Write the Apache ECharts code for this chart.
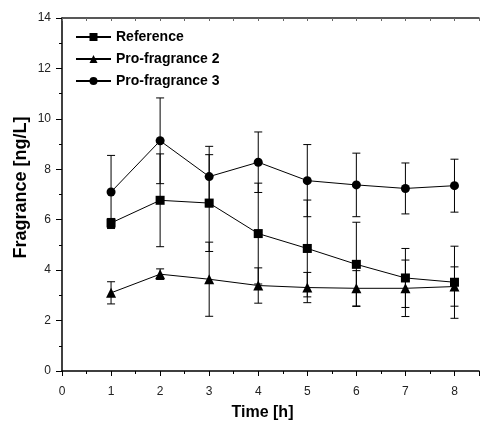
<!DOCTYPE html>
<html>
<head>
<meta charset="utf-8">
<script src="https://cdn.jsdelivr.net/npm/echarts@6/dist/echarts.min.js"></script>
<style>
html, body { margin: 0; padding: 0; background: #fff; }
#chart { width: 482px; height: 429px; }
</style>
</head>
<body>
<div id="chart"></div>
<script>
var times = [1, 2, 3, 4, 5, 6, 7, 8];
var seriesNames = ['Reference', 'Pro-fragrance 2', 'Pro-fragrance 3'];
// mean values
var refMean = [5.87, 6.77, 6.66, 5.45, 4.86, 4.23, 3.69, 3.52];
var pro2Mean = [3.10, 3.84, 3.64, 3.39, 3.31, 3.28, 3.28, 3.35];
var pro3Mean = [7.10, 9.13, 7.71, 8.28, 7.55, 7.38, 7.24, 7.35];
// error (+/-)
var refErr = [0.18, 1.84, 1.92, 2.0, 1.92, 1.67, 1.17, 1.43];
var pro2Err = [0.44, 0.21, 1.47, 0.70, 0.60, 0.70, 1.12, 0.78];
var pro3Err = [1.45, 1.70, 1.20, 1.20, 1.43, 1.26, 1.01, 1.05];
var symbols = ['rect', 'triangle', 'circle'];

function pairs(ys) {
	var out = [];
	for (var i = 0; i < times.length; i++) out.push([times[i], ys[i]]);
	return out;
}
function errData(ys, es) {
	var out = [];
	for (var i = 0; i < times.length; i++) out.push([times[i], ys[i] - es[i], ys[i] + es[i]]);
	return out;
}
function renderErr(params, api) {
	var x = api.value(0);
	var lo = api.coord([x, api.value(1)]);
	var hi = api.coord([x, api.value(2)]);
	var w = 4;
	var st = { stroke: '#000', lineWidth: 1 };
	return {
		type: 'group',
		children: [
			{ type: 'line', shape: { x1: lo[0], y1: lo[1], x2: hi[0], y2: hi[1] }, style: st },
			{ type: 'line', shape: { x1: lo[0] - w, y1: lo[1], x2: lo[0] + w, y2: lo[1] }, style: st },
			{ type: 'line', shape: { x1: hi[0] - w, y1: hi[1], x2: hi[0] + w, y2: hi[1] }, style: st }
		]
	};
}

var means = [refMean, pro2Mean, pro3Mean];
var errs = [refErr, pro2Err, pro3Err];
var series = [];
for (var k = 0; k < 3; k++) {
	series.push({
		type: 'custom',
		name: seriesNames[k] + ' err',
		renderItem: renderErr,
		data: errData(means[k], errs[k]),
		encode: { x: 0, y: [1, 2] },
		z: 1,
		silent: true
	});
}
for (var k = 0; k < 3; k++) {
	series.push({
		type: 'line',
		name: seriesNames[k],
		data: pairs(means[k]),
		symbol: symbols[k],
		symbolSize: k == 1 ? 10 : 9,
		lineStyle: { color: '#000', width: 1 },
		itemStyle: { color: '#000' },
		z: 3,
		animation: false
	});
}

var myChart = echarts.init(document.getElementById('chart'));
var option = {
	backgroundColor: '#fff',
	animation: false,
	grid: { left: 62, right: -3, top: 18, bottom: 58 },
	legend: {
		data: seriesNames,
		orient: 'vertical',
		left: 70,
		top: 25,
		itemGap: 8,
		itemWidth: 35,
		itemHeight: 10,
		textStyle: { fontFamily: 'Liberation Sans', fontWeight: 'bold', fontSize: 14, color: '#000' }
	},
	xAxis: [{
		type: 'value',
		min: 0,
		max: 8.5,
		interval: 1,
		name: 'Time [h]',
		nameLocation: 'middle',
		nameGap: 34,
		nameTextStyle: { fontFamily: 'Liberation Sans', fontWeight: 'bold', fontSize: 16, color: '#000', padding: [0, 16, 0, 0] },
		axisLine: { onZero: false, lineStyle: { color: '#000', width: 1.5 } },
		axisTick: { inside: false, length: 5, lineStyle: { color: '#000' } },
		minorTick: { show: true, splitNumber: 2, length: 3, lineStyle: { color: '#000' } },
		axisLabel: { fontFamily: 'Liberation Sans', fontSize: 12, color: '#222', margin: 15,
			formatter: function(v) { return v > 8 ? '' : v; } },
		splitLine: { show: false }
	}, {
		type: 'value',
		position: 'top',
		min: 0,
		max: 8.5,
		interval: 0.5,
		axisLine: { onZero: false, lineStyle: { color: '#222', width: 1.5 } },
		axisTick: { inside: true, length: 3, lineStyle: { color: '#666' } },
		axisLabel: { show: false },
		splitLine: { show: false }
	}],
	yAxis: {
		type: 'value',
		min: 0,
		max: 14,
		interval: 2,
		name: 'Fragrance [ng/L]',
		nameLocation: 'middle',
		nameGap: 32,
		nameMoveOverlap: false,
		nameTextStyle: { fontFamily: 'Liberation Sans', fontWeight: 'bold', fontSize: 18, color: '#000', padding: [0, 0, 0, 14] },
		axisLine: { show: true, onZero: false, lineStyle: { color: '#000', width: 1.5 } },
		axisTick: { show: true, length: 6, lineStyle: { color: '#000' } },
		minorTick: { show: true, splitNumber: 2, length: 3, lineStyle: { color: '#000' } },
		axisLabel: { fontFamily: 'Liberation Sans', fontSize: 12, color: '#222', margin: 11 },
		splitLine: { show: false }
	},
	series: series
};
myChart.setOption(option, true);
</script>
</body>
</html>
